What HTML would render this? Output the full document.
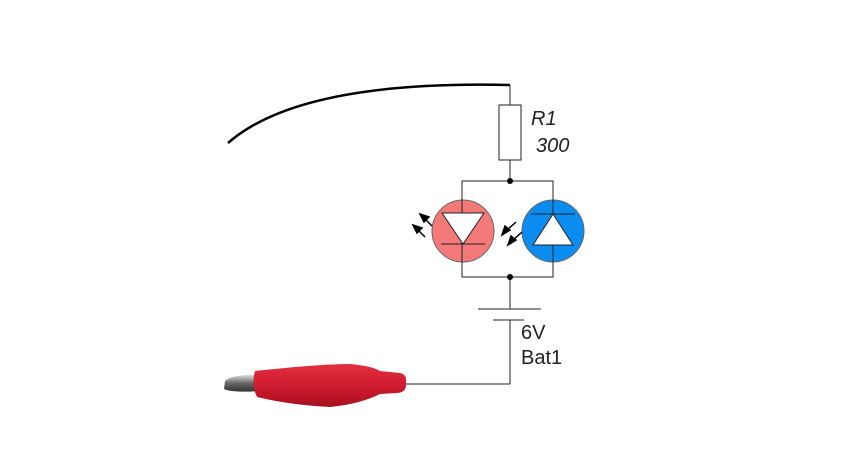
<!DOCTYPE html>
<html><head><meta charset="utf-8"><style>body{margin:0;background:#fff}svg{display:block}</style></head><body>
<svg width="850" height="474" viewBox="0 0 850 474" xmlns="http://www.w3.org/2000/svg">
<defs>
<linearGradient id="red" x1="0" y1="0" x2="0" y2="1"><stop offset="0" stop-color="#e0303f"/><stop offset="0.5" stop-color="#d01c30"/><stop offset="1" stop-color="#a8101f"/></linearGradient>
<linearGradient id="met" x1="0" y1="0" x2="0" y2="1"><stop offset="0" stop-color="#ddd"/><stop offset="0.5" stop-color="#666"/><stop offset="1" stop-color="#333"/></linearGradient>
</defs>
<path d="M228 143 Q300 80 510 85" fill="none" stroke="#000" stroke-width="2.5"/>
<g stroke="#222" stroke-width="1" fill="none">
<line x1="510" y1="85" x2="510" y2="105"/>
<rect x="499" y="105" width="22" height="55" fill="#fff"/>
<line x1="510" y1="160" x2="510" y2="181"/>
<circle cx="463" cy="231" r="31" fill="#f47a7a" stroke="#666"/>
<circle cx="553" cy="231" r="31" fill="#0a8cf0" stroke="#666"/>
<path d="M462 181 H553 V277 H462 Z"/>
<line x1="510" y1="277" x2="510" y2="309"/>
<line x1="478" y1="309" x2="541" y2="309"/>
<line x1="493" y1="320" x2="524" y2="320"/>
<line x1="510" y1="320" x2="510" y2="384"/>
<line x1="510" y1="384" x2="405" y2="384"/>
</g>
<polygon points="442,213 484,213 463,244" fill="#fff" stroke="#222"/>
<line x1="441" y1="244" x2="485" y2="244" stroke="#222"/>
<polygon points="533,245 573,245 553,214" fill="#fff" stroke="#222"/>
<line x1="531" y1="214" x2="575" y2="214" stroke="#222"/>
<circle cx="510" cy="181" r="3" fill="#000"/>
<circle cx="510" cy="277" r="3" fill="#000"/>
<g stroke="#000" stroke-width="1.5">
<line x1="432" y1="226" x2="423" y2="217"/><polygon points="420,214 429,217 424,222" fill="#000"/>
<line x1="425" y1="237" x2="416" y2="228"/><polygon points="413,225 422,228 417,233" fill="#000"/>
<line x1="516" y1="222" x2="505" y2="232"/><polygon points="502,235 505,226 510,230" fill="#000"/>
<line x1="522" y1="232" x2="511" y2="242"/><polygon points="508,245 511,236 516,240" fill="#000"/>
</g>
<g font-family="Liberation Sans, sans-serif" font-size="20" fill="#222">
<text x="531" y="125" font-style="italic">R1</text>
<text x="536" y="152" font-style="italic">300</text>
<text x="521" y="339">6V</text>
<text x="521" y="364">Bat1</text>
</g>
<path d="M225 381 Q232 374 262 375 L262 391 Q232 393 224 389 Z" fill="url(#met)"/>
<path d="M255 371 Q320 364 350 364 Q372 366 380 371 L400 373 Q406 374 406 380 L406 386 Q405 393 396 393 L380 394 Q360 404 330 407 Q290 405 257 397 Q251 385 255 371 Z" fill="url(#red)"/>
</svg>
</body></html>
